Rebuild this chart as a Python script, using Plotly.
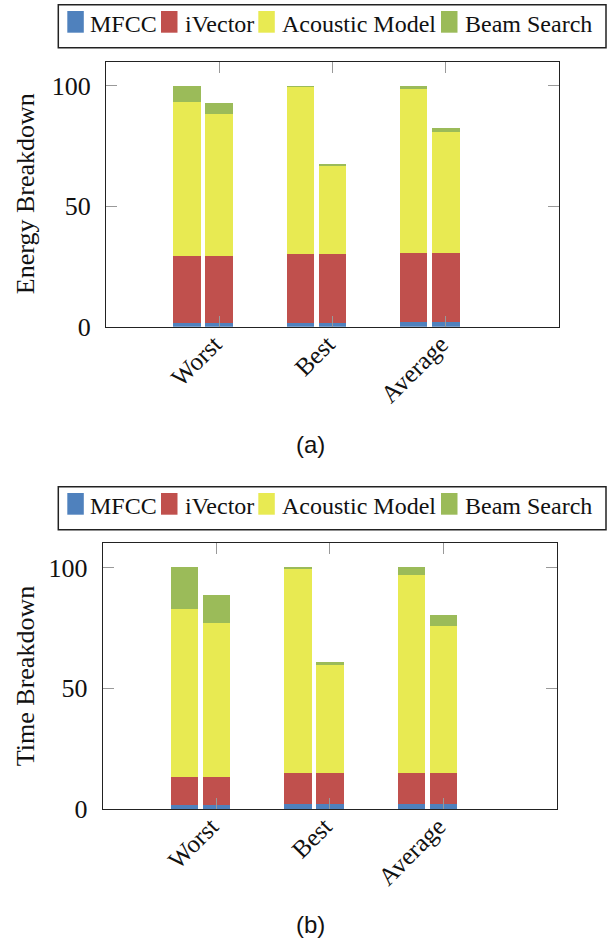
import plotly.graph_objects as go

categories = ["Worst", "Best", "Average"]
series_names = ["MFCC", "iVector", "Acoustic Model", "Beam Search"]
colors = ["#4f81bd", "#c0504d", "#e8ea52", "#9bbb59"]

# Energy breakdown: segment heights, bar A then bar B for each category
energy_a = {
    "MFCC": [1.5, 1.8, 2.0],
    "iVector": [27.8, 28.4, 28.7],
    "Acoustic Model": [64.3, 69.7, 68.5],
    "Beam Search": [6.4, 0.1, 0.8],
}
energy_b = {
    "MFCC": [1.5, 1.8, 2.0],
    "iVector": [27.8, 28.4, 28.8],
    "Acoustic Model": [59.2, 36.8, 50.1],
    "Beam Search": [4.3, 0.4, 1.5],
}
# Time breakdown
time_a = {
    "MFCC": [1.7, 2.1, 2.1],
    "iVector": [11.3, 12.7, 12.8],
    "Acoustic Model": [69.8, 84.6, 81.9],
    "Beam Search": [17.2, 0.6, 3.2],
}
time_b = {
    "MFCC": [1.7, 2.1, 2.1],
    "iVector": [11.3, 12.7, 12.8],
    "Acoustic Model": [64.0, 44.5, 60.7],
    "Beam Search": [11.3, 1.4, 4.8],
}

y_ticks = [0, 50, 100]
y_titles = ["Energy Breakdown", "Time Breakdown"]
captions = ["(a)", "(b)"]

OFFSET = 0.283
WIDTH = 0.243
W, H = 611, 941


def px(x):
    return x / W


def py(y):
    return 1 - y / H


fig = go.Figure()
cat_idx = list(range(len(categories)))


def add_panel(data_a, data_b, xref, yref):
    xs = []
    for i in cat_idx:
        xs += [i - OFFSET, i]
    for name, col in zip(series_names, colors):
        ys = []
        for i in cat_idx:
            ys += [data_a[name][i], data_b[name][i]]
        fig.add_trace(go.Bar(
            x=xs, y=ys, name=name, width=WIDTH,
            marker=dict(color=col, line=dict(width=0)),
            xaxis=xref, yaxis=yref, showlegend=False,
        ))


add_panel(energy_a, energy_b, "x", "y")
add_panel(time_a, time_b, "x2", "y2")

serif = "Liberation Serif, Times New Roman, DejaVu Serif, serif"
sans = "Liberation Sans, Arial, sans-serif"
axis_common = dict(
    showline=True, linecolor="#222", linewidth=1, mirror="ticks",
    ticks="inside", ticklen=11, tickcolor="#999", tickwidth=1,
    showgrid=False, zeroline=False, automargin=False,
    tickfont=dict(family=serif, size=26, color="#111"),
)


def xaxis_cfg(x0, x1, anchor):
    return dict(axis_common, domain=[px(x0), px(x1)], anchor=anchor, range=[-1, 3],
                tickmode="array", tickvals=cat_idx, ticktext=categories,
                tickangle=-45, ticklabelshift=-5, ticklabelstandoff=-8,
                tickfont=dict(family=serif, size=25, color="#111"))


def yaxis_cfg(y_bottom, y_top, anchor):
    return dict(axis_common, domain=[py(y_bottom), py(y_top)], anchor=anchor,
                range=[0, 110], tickmode="array", tickvals=y_ticks,
                ticklabelstandoff=9)


shapes = []
annotations = []

# panel geometry (pixels in the page)
panels = [
    dict(top=61.7, bottom=326.7, left=106, right=559, leg=4.7, cap=444.5),
    dict(top=543.3, bottom=809, left=102.7, right=556.7, leg=486.7, cap=924),
]

swatch_x = [67.3, 161, 258.3, 441]
text_x = [88.3, 182.7, 280, 463.3]

for k, p in enumerate(panels):
    lt = p["leg"]
    shapes.append(dict(type="rect", xref="paper", yref="paper",
                       x0=px(58.3), x1=px(606), y0=py(lt + 43), y1=py(lt),
                       line=dict(color="#222", width=1.5), fillcolor="white"))
    for sx, tx, name, col in zip(swatch_x, text_x, series_names, colors):
        shapes.append(dict(type="rect", xref="paper", yref="paper",
                           x0=px(sx), x1=px(sx + 16.5), y0=py(lt + 28), y1=py(lt + 6.3),
                           line=dict(width=0), fillcolor=col))
        annotations.append(dict(text=name, x=px(tx), y=py(lt + 19.5), xref="paper", yref="paper",
                                xanchor="left", yanchor="middle", showarrow=False,
                                font=dict(family=serif, size=24, color="#111")))
    annotations.append(dict(text=y_titles[k], x=px(25), y=py((p["top"] + p["bottom"]) / 2),
                            xref="paper", yref="paper", textangle=-90,
                            xanchor="center", yanchor="middle", showarrow=False,
                            font=dict(family=serif, size=26, color="#111")))
    annotations.append(dict(text=captions[k], x=px(310), y=py(p["cap"]),
                            xref="paper", yref="paper", xanchor="center", yanchor="middle",
                            showarrow=False, font=dict(family=sans, size=24, color="#111")))

fig.update_layout(
    width=W, height=H,
    margin=dict(l=0, r=0, t=0, b=0, autoexpand=False),
    paper_bgcolor="white", plot_bgcolor="white",
    barmode="stack", bargap=0, showlegend=False,
    xaxis=xaxis_cfg(panels[0]["left"], panels[0]["right"], "y"),
    yaxis=yaxis_cfg(panels[0]["bottom"], panels[0]["top"], "x"),
    xaxis2=xaxis_cfg(panels[1]["left"], panels[1]["right"], "y2"),
    yaxis2=yaxis_cfg(panels[1]["bottom"], panels[1]["top"], "x2"),
    shapes=shapes,
    annotations=annotations,
)

fig.write_html(
    "out.html",
    config={"displayModeBar": False},
    post_script="document.body.style.margin='0';document.body.style.overflow='hidden';",
)
